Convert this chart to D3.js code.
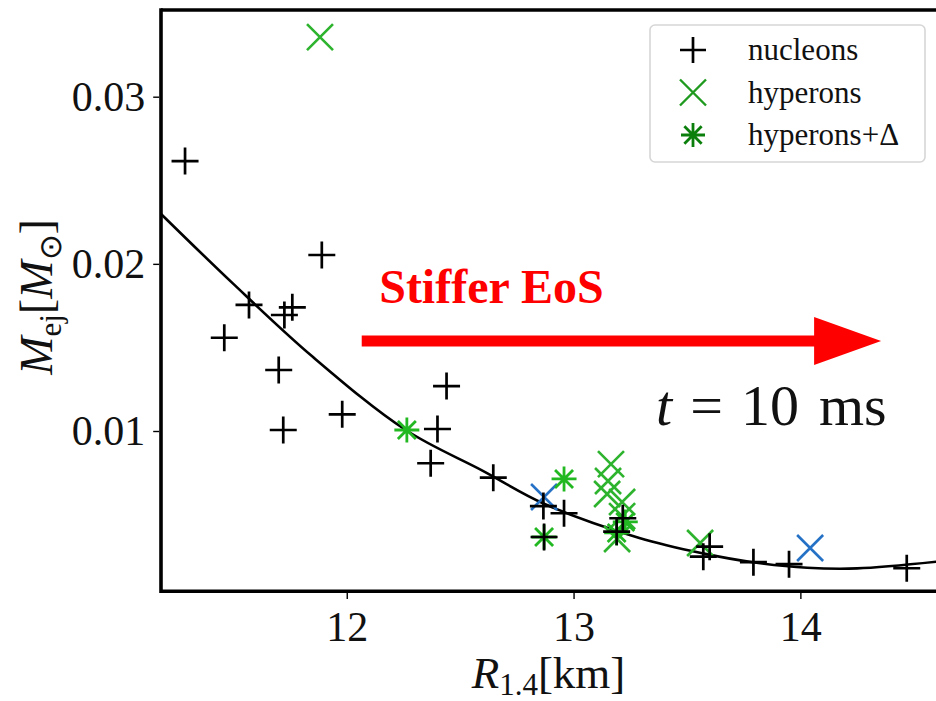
<!DOCTYPE html>
<html>
<head>
<meta charset="utf-8">
<script src="https://cdn.jsdelivr.net/npm/d3@7"></script>
<style>
  body { margin:0; background:#fff; }
  .chart { width:936px; height:701px; }
  text { font-family:"Liberation Serif", "Times New Roman", serif; }
</style>
</head>
<body>
<div class="chart"></div>
<script>
//Data
const nucleonsR = [11.287, 11.89, 11.569, 11.76, 11.725, 11.46, 11.70, 11.72, 11.98, 12.44, 12.40, 12.37,
	12.646, 12.867, 12.958, 13.19, 13.217, 13.572, 13.60, 13.793, 13.95, 14.469, 12.870];
const nucleonsM = [0.02615, 0.02053, 0.01754, 0.0174, 0.01694, 0.01558, 0.01365, 0.01006, 0.0110, 0.01269, 0.01012, 0.00807,
	0.00721, 0.00551, 0.00508, 0.00398, 0.00478, 0.00248, 0.00308, 0.00215, 0.00203, 0.00179, 0.00366];

const hyperonsR = [11.882, 13.165, 13.152, 13.148, 13.214, 13.214, 13.192, 13.558];
const hyperonsM = [0.03356, 0.00802, 0.00701, 0.00623, 0.00575, 0.00491, 0.00354, 0.00330];

//hyperon models drawn in blue
const hyperonsBlueR = [12.870, 14.043];
const hyperonsBlueM = [0.00605, 0.00300];

const deltaR = [12.265, 12.958, 12.870, 13.19, 13.228];
const deltaM = [0.01006, 0.00713, 0.00366, 0.0039, 0.00456];

//fit curve
const fitR = [11.18, 11.5, 11.85, 12.26, 12.6, 12.87, 13.29, 13.57, 13.79, 14.03, 14.25, 14.6];
const fitM = [0.0230, 0.0188, 0.01444, 0.01006, 0.00762, 0.00565, 0.00360, 0.00268, 0.00215, 0.00182, 0.00178, 0.00218];

const xTicks = [12, 13, 14];
const yTicks = [0.01, 0.02, 0.03];
const legendLabels = ['nucleons', 'hyperons', 'hyperons+\u0394'];

//Prep work
const W = 936, H = 701;
const margin = {t:10, l:161};
const x = d3.scaleLinear().domain([11.181, 14.598]).range([margin.l, W]);
const y = d3.scaleLinear().domain([0.00041, 0.035187]).range([591.3, margin.t]);

const svg = d3.select('.chart')
	.append('svg')
		.attr('width', W)
		.attr('height', H);

const zip = (a, b) => a.map((v, i) => [v, b[i]]);

//marker shapes
function plusPath(s){ return `M${-s},0H${s}M0,${-s}V${s}`; }
function crossPath(s){ return `M${-s},${-s}L${s},${s}M${-s},${s}L${s},${-s}`; }
function starPath(s){ const d = s*0.72; return plusPath(s) + crossPath(d); }

const plot = svg.append('g');

//fit line
plot.append('path')
	.datum(zip(fitR, fitM))
	.attr('d', d3.line().x(d => x(d[0])).y(d => y(d[1])).curve(d3.curveCatmullRom))
	.style('fill', 'none')
	.style('stroke', '#000')
	.style('stroke-width', 2.6);

function drawMarkers(data, shape, color, width){
	plot.append('g').selectAll('path')
		.data(data)
		.enter()
		.append('path')
		.attr('transform', d => `translate(${x(d[0])},${y(d[1])})`)
		.attr('d', shape)
		.style('fill', 'none')
		.style('stroke', color)
		.style('stroke-width', width);
}

drawMarkers(zip(hyperonsR, hyperonsM), crossPath(13), '#2db32d', 2.6);
drawMarkers(zip(hyperonsBlueR, hyperonsBlueM), crossPath(13), '#2471c6', 2.6);
drawMarkers(zip(deltaR, deltaM), starPath(12.5), '#22b822', 2.8);
drawMarkers(zip(nucleonsR, nucleonsM), plusPath(13.5), '#000', 2.7);

//spines
const spine = svg.append('g').style('stroke', '#000').style('stroke-width', 3.6);
spine.append('line').attr('x1', x.range()[0]).attr('x2', x.range()[0]).attr('y1', y.range()[1] - 1.8).attr('y2', y.range()[0] + 1.8);
spine.append('line').attr('x1', x.range()[0]).attr('x2', W).attr('y1', y.range()[1]).attr('y2', y.range()[1]);
spine.append('line').attr('x1', x.range()[0]).attr('x2', W).attr('y1', y.range()[0]).attr('y2', y.range()[0]);

//axes
const xAxis = svg.append('g')
	.attr('transform', `translate(0,${y.range()[0] + 1.8})`)
	.call(d3.axisBottom(x).tickValues(xTicks).tickSize(6).tickPadding(10).tickFormat(d3.format('d')));
const yAxis = svg.append('g')
	.attr('transform', `translate(${x.range()[0] - 1.8},0)`)
	.call(d3.axisLeft(y).tickValues(yTicks).tickSize(6).tickPadding(8).tickFormat(d3.format('.2f')));
[xAxis, yAxis].forEach(function(a){
	a.select('.domain').remove();
	a.selectAll('.tick line').style('stroke', '#000').style('stroke-width', 1.4);
	a.selectAll('.tick text')
		.style('font-family', '"Liberation Serif", serif')
		.style('font-size', '42px')
		.style('fill', '#111');
});
xAxis.selectAll('.tick text').attr('dy', '0.75em');
yAxis.selectAll('.tick text').attr('dy', '0.33em');

//axis labels
const xl = svg.append('text')
	.attr('x', (x.range()[0] + W)/2)
	.attr('y', 688)
	.attr('text-anchor', 'middle')
	.style('font-size', '45px')
	.style('fill', '#111');
xl.append('tspan').style('font-style', 'italic').text('R');
xl.append('tspan').attr('dy', 7).style('font-size', '31px').text('1.4');
xl.append('tspan').attr('dy', -7).text('[km]');

const yl = svg.append('text')
	.attr('transform', 'translate(52,297) rotate(-90)')
	.attr('text-anchor', 'middle')
	.style('font-size', '46px')
	.style('fill', '#111');
yl.append('tspan').style('font-style', 'italic').text('M');
yl.append('tspan').attr('dy', 9).style('font-size', '31px').text('ej');
yl.append('tspan').attr('dy', -9).text('[');
yl.append('tspan').style('font-style', 'italic').text('M');
yl.append('tspan').attr('dy', 9).style('font-size', '31px').text('\u2299');
yl.append('tspan').attr('dy', -9).text(']');

//annotation: arrow + texts, placed in data units
const arrowR = [12.066, 14.356];
const arrowM = 0.015384;
const ax0 = x(arrowR[0]), ax1 = x(arrowR[1]), ay = y(arrowM);
const headL = 67, headW = 24, shaft = 5.5;
svg.append('path')
	.attr('d', `M${ax0},${ay - shaft}H${ax1 - headL}V${ay - headW}L${ax1},${ay}L${ax1 - headL},${ay + headW}V${ay + shaft}H${ax0}Z`)
	.style('fill', '#ff0000');

svg.append('text')
	.attr('x', x(12.143))
	.attr('y', y(0.01764))
	.style('font-size', '48px')
	.style('font-weight', 'bold')
	.style('fill', '#ff0000')
	.text('Stiffer EoS');

const tt = svg.append('text')
	.attr('x', x(13.364))
	.attr('y', y(0.01036))
	.style('font-size', '58px')
	.style('fill', '#111');
tt.append('tspan').style('font-style', 'italic').text('t');
tt.append('tspan').attr('dx', 18).text('=');
tt.append('tspan').attr('dx', 18).text('10');
tt.append('tspan').attr('dx', 20).text('ms');

//legend
const legend = svg.append('g').attr('transform', 'translate(650,25)');
legend.append('rect')
	.attr('width', 275).attr('height', 137)
	.attr('rx', 5)
	.style('fill', '#fff')
	.style('stroke', '#d6d6d6')
	.style('stroke-width', 1.6);
const legendShapes = [plusPath(13), crossPath(13), starPath(12)];
const legendColors = ['#000', '#1f9a1f', '#0b7f0b'];
const legendWidths = [2.7, 2.4, 2.8];
legendLabels.forEach(function(lab, i){
	const ly = 25 + i*42.5;
	legend.append('path')
		.attr('transform', `translate(43,${ly})`)
		.attr('d', legendShapes[i])
		.style('fill', 'none')
		.style('stroke', legendColors[i])
		.style('stroke-width', legendWidths[i]);
	legend.append('text')
		.attr('x', 98).attr('y', ly + 10)
		.style('font-size', '31px')
		.style('fill', '#111')
		.text(lab);
});
</script>
</body>
</html>
